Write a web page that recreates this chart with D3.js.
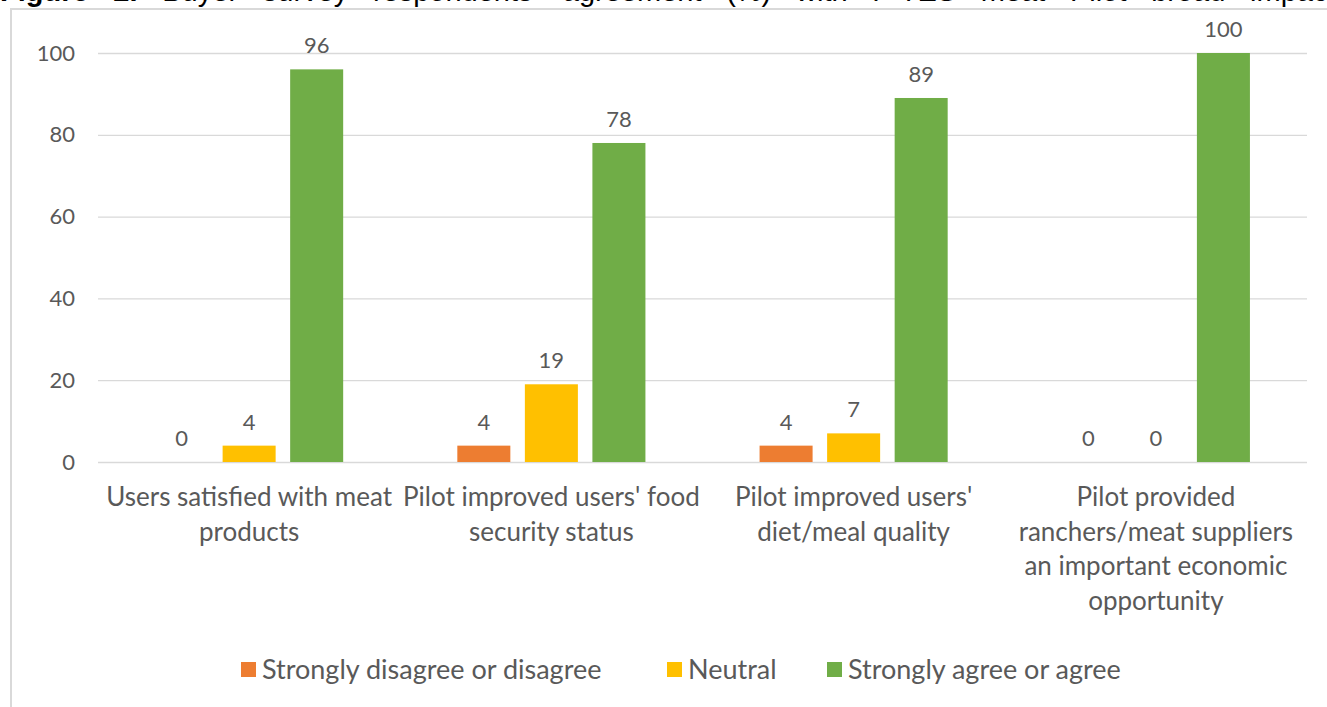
<!DOCTYPE html>
<html>
<head>
<meta charset="utf-8">
<script src="https://cdn.jsdelivr.net/npm/d3@7"></script>
<style>
  body { margin: 0; background: #fff; }
  svg text { font-family: Lato, "Open Sans", sans-serif; fill: #595959; }
</style>
</head>
<body>
<svg id="chart" width="1327" height="707"></svg>
<script>
// categories (line breaks as in the original wrap)
const categories = [
    "Users satisfied with meat\nproducts",
    "Pilot improved users' food\nsecurity status",
    "Pilot improved users'\ndiet/meal quality",
    "Pilot provided\nranchers/meat suppliers\nan important economic\nopportunity"
];
const seriesNames = ["Strongly disagree or disagree", "Neutral", "Strongly agree or agree"];
const disagree = [0, 4, 4, 0];
const neutral = [4, 19, 7, 0];
const agree = [96, 78, 89, 100];
const yTicks = [0, 20, 40, 60, 80, 100];
const titleBold = "Figure 2.";
const titleRest = " Buyer survey respondents' agreement (%) with F-TES meat Pilot broad impacts";

const colors = ["#ED7D31", "#FFC000", "#70AD47"];

const drawChart = function (svg) {
    let margin = {top: 53, bottom: 245, left: 98, right: 20};
    let width = +svg.attr("width");
    let height = +svg.attr("height");

    // outer frame (only top and left edges are visible in the crop)
    svg.append("path")
        .attr("d", `M11,${height} L11,9 L${width},9`)
        .attr("fill", "none")
        .attr("stroke", "#d9d9d9")
        .attr("stroke-width", 2);

    // clipped title, only its lower part shows; justified like the source page
    let title = svg.append("text")
        .attr("x", 0)
        .attr("y", 1)
        .style("font-family", "'Liberation Sans', Arial, sans-serif")
        .style("font-size", "29px")
        .style("fill", "#000");
    title.append("tspan").style("font-weight", "bold").text(titleBold);
    title.append("tspan").text(titleRest);
    // stretch the spaces so "impac" meets the right edge
    let natural = title.node().getComputedTextLength();
    let spaces = (titleBold + titleRest).split(" ").length - 1;
    title.style("word-spacing", Math.max(0, (1350 - natural) / spaces) + "px");

    let yScale = d3.scaleLinear()
        .domain([0, 100])
        .range([462, margin.top]);

    let x0 = d3.scaleBand()
        .domain(categories)
        .range([margin.left, 1307])
        .padding(0);

    let x1 = d3.scaleBand()
        .domain(seriesNames)
        .range([0, x0.bandwidth()])
        .paddingInner(0.215)
        .paddingOuter(0.845);

    // gridlines
    let grid = d3.axisLeft(yScale)
        .tickValues(yTicks)
        .tickSize(-(1307 - margin.left))
        .tickPadding(23)
        .tickFormat(d3.format('d'));

    let g = svg.append("g")
        .attr("transform", `translate(${margin.left}, 0)`)
        .call(grid);
    g.select(".domain").remove();
    g.selectAll(".tick line").attr("stroke", "#d9d9d9").attr("stroke-width", 1.3);
    g.selectAll(".tick text")
        .style("font-size", "22px")
        .style("fill", "#595959");

    let series = [disagree, neutral, agree];
    series.forEach((vals, si) => {
        categories.forEach((c, ci) => {
            let x = x0(c) + x1(seriesNames[si]);
            svg.append("rect")
                .attr("x", x)
                .attr("y", yScale(vals[ci]))
                .attr("width", x1.bandwidth())
                .attr("height", yScale(0) - yScale(vals[ci]))
                .style("fill", colors[si]);

            svg.append("text")
                .attr("x", x + x1.bandwidth() / 2)
                .attr("y", yScale(vals[ci]) - 16)
                .attr("text-anchor", "middle")
                .style("font-size", "22px")
                .text(vals[ci]);
        });
    });

    // category labels
    categories.forEach(c => {
        let t = svg.append("text")
            .attr("text-anchor", "middle")
            .style("font-size", "26px");
        c.split("\n").forEach((line, i) => {
            t.append("tspan")
                .attr("x", x0(c) + x0.bandwidth() / 2)
                .attr("y", 506 + i * 34.5)
                .text(line);
        });
    });

    // legend
    let legendX = [241, 667, 827];
    seriesNames.forEach((s, i) => {
        svg.append("rect")
            .attr("x", legendX[i])
            .attr("y", 662)
            .attr("width", 15)
            .attr("height", 15)
            .style("fill", colors[i]);
        svg.append("text")
            .attr("x", legendX[i] + 21)
            .attr("y", 679)
            .style("font-size", "27px")
            .text(s);
    });
}

drawChart(d3.select("svg#chart"));
</script>
</body>
</html>
